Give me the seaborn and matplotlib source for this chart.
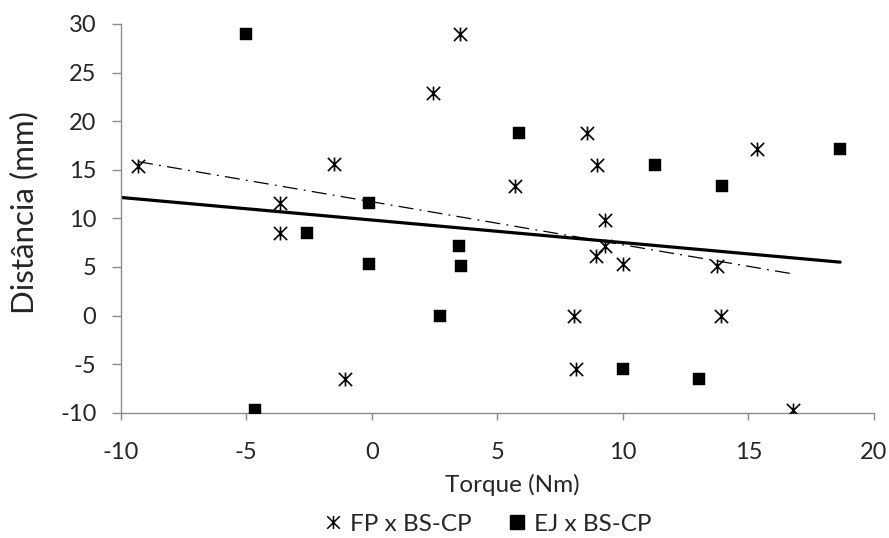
import numpy as np
import pandas as pd
import matplotlib
matplotlib.use("Agg")
import matplotlib.pyplot as plt
from matplotlib.path import Path
from matplotlib.lines import Line2D
import seaborn as sns

# ---- data ----
fp_torque = [-9.31, -3.67, -3.64, -1.51, -1.07, 2.43, 3.53, 5.69, 8.05, 8.13,
             8.58, 8.93, 8.98, 9.27, 9.30, 10.0, 13.76, 13.89, 15.33, 16.79]
fp_dist = [15.4, 11.6, 8.5, 15.6, -6.5, 22.9, 29.0, 13.3, 0.0, -5.5,
           18.8, 6.1, 15.5, 7.2, 9.8, 5.3, 5.1, 0.0, 17.1, -9.7]
ej_torque = [-5.02, -4.66, -2.60, -0.12, -0.12, 2.70, 3.47, 3.57, 5.86, 10.0,
             11.26, 13.03, 13.94, 18.65]
ej_dist = [29.0, -9.7, 8.5, 11.6, 5.3, 0.0, 7.2, 5.1, 18.8, -5.5,
           15.5, -6.5, 13.3, 17.1]
series_names = ["FP x BS-CP", "EJ x BS-CP"]
x_ticks = [-10, -5, 0, 5, 10, 15, 20]
y_ticks = [-10, -5, 0, 5, 10, 15, 20, 25, 30]

fp = pd.DataFrame({"Torque": fp_torque, "Dist": fp_dist})
ej = pd.DataFrame({"Torque": ej_torque, "Dist": ej_dist})

sns.set_style("white")
plt.rcParams["font.family"] = ["Lato", "DejaVu Sans"]

W, H = 889, 538
fig = plt.figure(figsize=(W / 100, H / 100), dpi=100)
ax = fig.add_axes([120.7 / W, 1 - 412.7 / H, (874 - 120.7) / W, (412.7 - 24) / H])

# asterisk marker: X plus vertical bar
ast_path = Path(
    [(-1, -1), (1, 1), (-1, 1), (1, -1), (0, -1.05), (0, 1.05)],
    [Path.MOVETO, Path.LINETO, Path.MOVETO, Path.LINETO, Path.MOVETO, Path.LINETO],
)

sns.scatterplot(data=fp, x="Torque", y="Dist", ax=ax, marker=ast_path, s=100,
                color="black", edgecolor="black", linewidth=1.2, zorder=3)
sns.scatterplot(data=ej, x="Torque", y="Dist", ax=ax, marker="s", s=85,
                color="black", edgecolor="black", linewidth=0.3, zorder=3)

# trend lines
k1, b1 = np.polyfit(fp["Torque"], fp["Dist"], 1)
xs1 = np.array([fp["Torque"].min(), fp["Torque"].max()])
ax.plot(xs1, k1 * xs1 + b1, color="black", lw=0.9, linestyle=(0, (12, 5, 1.5, 5)), zorder=2)

all_x = np.concatenate([fp_torque, ej_torque])
all_y = np.concatenate([fp_dist, ej_dist])
k2, b2 = np.polyfit(all_x, all_y, 1)
xs2 = np.array([x_ticks[0], all_x.max()])
ax.plot(xs2, k2 * xs2 + b2, color="black", lw=2.3, solid_capstyle="round", zorder=2)

ax.set_xlim(x_ticks[0], x_ticks[-1])
ax.set_ylim(y_ticks[0], y_ticks[-1])
ax.set_xticks(x_ticks)
ax.set_yticks(y_ticks)
ax.set_xticklabels([str(v) for v in x_ticks])
ax.set_yticklabels([str(v) for v in y_ticks])

for side in ["top", "right"]:
    ax.spines[side].set_visible(False)
for side in ["left", "bottom"]:
    ax.spines[side].set_color("#8c8c8c")
    ax.spines[side].set_linewidth(1.0)

ax.tick_params(axis="y", direction="out", length=6.5, width=1.0, color="#8c8c8c",
               labelsize=17, pad=11, left=True)
ax.tick_params(axis="x", direction="out", length=5, width=1.0, color="#8c8c8c",
               labelsize=17, pad=16, bottom=True)

ax.set_xlabel("")
ax.set_ylabel("")
fig.text(512 / W, 1 - 492 / H, "Torque (Nm)", fontsize=17.5, ha="center", va="baseline")
fig.text(24 / W, 1 - 213 / H, "Distância (mm)", fontsize=22.5, rotation=90,
         ha="center", va="center")

handles = [
    Line2D([], [], marker=ast_path, color="black", linestyle="none", markersize=9.5,
           markeredgewidth=1.1),
    Line2D([], [], marker="s", color="black", linestyle="none", markersize=9.5),
]
fig.legend(handles, series_names, loc="center", bbox_to_anchor=(488 / W, 1 - 524 / H),
           ncol=2, frameon=False, fontsize=17.5, handletextpad=0.35, columnspacing=1.5,
           handlelength=0.7, borderpad=0, borderaxespad=0)

fig.savefig("out.png", dpi=100)
